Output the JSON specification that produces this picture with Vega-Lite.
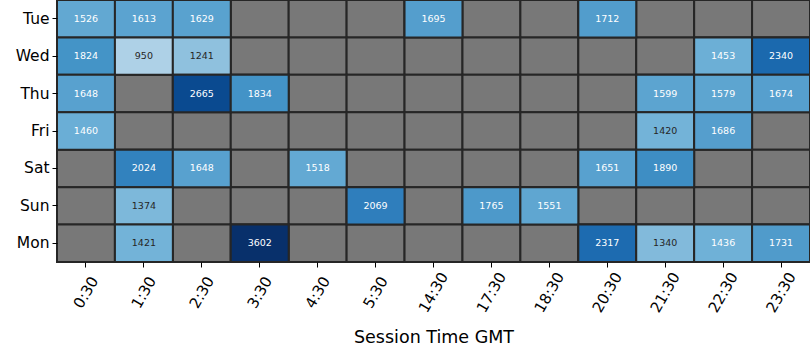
{
  "$schema": "https://vega.github.io/schema/vega-lite/v6.json",
  "width": 753,
  "height": 262,
  "autosize": {"type": "none"},
  "padding": {"left": 57, "top": 0, "right": 0, "bottom": 98},
  "background": "white",
  "config": {"view": {"stroke": null}, "font": "DejaVu Sans"},
  "data": {"values": [
    {"day": "Tue", "time": "0:30", "value": 1526},
    {"day": "Tue", "time": "1:30", "value": 1613},
    {"day": "Tue", "time": "2:30", "value": 1629},
    {"day": "Tue", "time": "3:30", "value": null},
    {"day": "Tue", "time": "4:30", "value": null},
    {"day": "Tue", "time": "5:30", "value": null},
    {"day": "Tue", "time": "14:30", "value": 1695},
    {"day": "Tue", "time": "17:30", "value": null},
    {"day": "Tue", "time": "18:30", "value": null},
    {"day": "Tue", "time": "20:30", "value": 1712},
    {"day": "Tue", "time": "21:30", "value": null},
    {"day": "Tue", "time": "22:30", "value": null},
    {"day": "Tue", "time": "23:30", "value": null},
    {"day": "Wed", "time": "0:30", "value": 1824},
    {"day": "Wed", "time": "1:30", "value": 950},
    {"day": "Wed", "time": "2:30", "value": 1241},
    {"day": "Wed", "time": "3:30", "value": null},
    {"day": "Wed", "time": "4:30", "value": null},
    {"day": "Wed", "time": "5:30", "value": null},
    {"day": "Wed", "time": "14:30", "value": null},
    {"day": "Wed", "time": "17:30", "value": null},
    {"day": "Wed", "time": "18:30", "value": null},
    {"day": "Wed", "time": "20:30", "value": null},
    {"day": "Wed", "time": "21:30", "value": null},
    {"day": "Wed", "time": "22:30", "value": 1453},
    {"day": "Wed", "time": "23:30", "value": 2340},
    {"day": "Thu", "time": "0:30", "value": 1648},
    {"day": "Thu", "time": "1:30", "value": null},
    {"day": "Thu", "time": "2:30", "value": 2665},
    {"day": "Thu", "time": "3:30", "value": 1834},
    {"day": "Thu", "time": "4:30", "value": null},
    {"day": "Thu", "time": "5:30", "value": null},
    {"day": "Thu", "time": "14:30", "value": null},
    {"day": "Thu", "time": "17:30", "value": null},
    {"day": "Thu", "time": "18:30", "value": null},
    {"day": "Thu", "time": "20:30", "value": null},
    {"day": "Thu", "time": "21:30", "value": 1599},
    {"day": "Thu", "time": "22:30", "value": 1579},
    {"day": "Thu", "time": "23:30", "value": 1674},
    {"day": "Fri", "time": "0:30", "value": 1460},
    {"day": "Fri", "time": "1:30", "value": null},
    {"day": "Fri", "time": "2:30", "value": null},
    {"day": "Fri", "time": "3:30", "value": null},
    {"day": "Fri", "time": "4:30", "value": null},
    {"day": "Fri", "time": "5:30", "value": null},
    {"day": "Fri", "time": "14:30", "value": null},
    {"day": "Fri", "time": "17:30", "value": null},
    {"day": "Fri", "time": "18:30", "value": null},
    {"day": "Fri", "time": "20:30", "value": null},
    {"day": "Fri", "time": "21:30", "value": 1420},
    {"day": "Fri", "time": "22:30", "value": 1686},
    {"day": "Fri", "time": "23:30", "value": null},
    {"day": "Sat", "time": "0:30", "value": null},
    {"day": "Sat", "time": "1:30", "value": 2024},
    {"day": "Sat", "time": "2:30", "value": 1648},
    {"day": "Sat", "time": "3:30", "value": null},
    {"day": "Sat", "time": "4:30", "value": 1518},
    {"day": "Sat", "time": "5:30", "value": null},
    {"day": "Sat", "time": "14:30", "value": null},
    {"day": "Sat", "time": "17:30", "value": null},
    {"day": "Sat", "time": "18:30", "value": null},
    {"day": "Sat", "time": "20:30", "value": 1651},
    {"day": "Sat", "time": "21:30", "value": 1890},
    {"day": "Sat", "time": "22:30", "value": null},
    {"day": "Sat", "time": "23:30", "value": null},
    {"day": "Sun", "time": "0:30", "value": null},
    {"day": "Sun", "time": "1:30", "value": 1374},
    {"day": "Sun", "time": "2:30", "value": null},
    {"day": "Sun", "time": "3:30", "value": null},
    {"day": "Sun", "time": "4:30", "value": null},
    {"day": "Sun", "time": "5:30", "value": 2069},
    {"day": "Sun", "time": "14:30", "value": null},
    {"day": "Sun", "time": "17:30", "value": 1765},
    {"day": "Sun", "time": "18:30", "value": 1551},
    {"day": "Sun", "time": "20:30", "value": null},
    {"day": "Sun", "time": "21:30", "value": null},
    {"day": "Sun", "time": "22:30", "value": null},
    {"day": "Sun", "time": "23:30", "value": null},
    {"day": "Mon", "time": "0:30", "value": null},
    {"day": "Mon", "time": "1:30", "value": 1421},
    {"day": "Mon", "time": "2:30", "value": null},
    {"day": "Mon", "time": "3:30", "value": 3602},
    {"day": "Mon", "time": "4:30", "value": null},
    {"day": "Mon", "time": "5:30", "value": null},
    {"day": "Mon", "time": "14:30", "value": null},
    {"day": "Mon", "time": "17:30", "value": null},
    {"day": "Mon", "time": "18:30", "value": null},
    {"day": "Mon", "time": "20:30", "value": 2317},
    {"day": "Mon", "time": "21:30", "value": 1340},
    {"day": "Mon", "time": "22:30", "value": 1436},
    {"day": "Mon", "time": "23:30", "value": 1731}
  ]},
  "encoding": {
    "x": {
      "field": "time", "type": "ordinal",
      "scale": {"domain": ["0:30","1:30","2:30","3:30","4:30","5:30","14:30","17:30","18:30","20:30","21:30","22:30","23:30"], "paddingInner": 0, "paddingOuter": 0},
      "axis": {"title": "Session Time GMT", "titleFontSize": 17.5, "titleFontWeight": "normal", "titleColor": "#000", "titlePadding": 14,
               "labelAngle": -60, "labelAlign": "center", "labelBaseline": "middle", "labelFontSize": 15, "labelColor": "#000",
               "labelPadding": 25, "tickSize": 5, "tickColor": "#000", "domain": false, "grid": false}
    },
    "y": {
      "field": "day", "type": "ordinal",
      "scale": {"domain": ["Tue","Wed","Thu","Fri","Sat","Sun","Mon"], "paddingInner": 0, "paddingOuter": 0},
      "axis": {"title": null, "labelFontSize": 15.5, "labelColor": "#000", "labelPadding": 3, "tickSize": 5, "tickColor": "#000", "domain": false, "grid": false}
    }
  },
  "layer": [
    {"mark": {"type": "rect", "fill": "#787878", "stroke": "#262626", "strokeWidth": 2}},
    {
      "transform": [{"filter": "datum.value != null"}],
      "mark": {"type": "rect", "stroke": "#262626", "strokeWidth": 2},
      "encoding": {
        "color": {"field": "value", "type": "quantitative", "legend": null,
          "scale": {"domain": [950, 1241, 1374, 1460, 1551, 1650, 1765, 1830, 2024, 2330, 2665, 3602],
                    "range": ["#aed1e7", "#8fc1de", "#7db8da", "#6aaed6", "#5fa6d1", "#58a1cf", "#4d99ca", "#4393c7", "#3282be", "#1c6aaf", "#0a4a90", "#08306b"],
                    "interpolate": "rgb"}}
      }
    },
    {
      "transform": [{"filter": "datum.value != null"}],
      "mark": {"type": "text", "fontSize": 9.5},
      "encoding": {
        "text": {"field": "value", "type": "quantitative", "format": "d"},
        "color": {"condition": {"test": "datum.value < 1430", "value": "#262626"}, "value": "#ffffff"}
      }
    }
  ]
}
